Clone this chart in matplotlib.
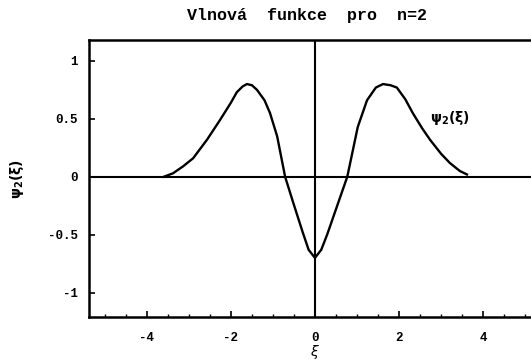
import numpy as np
from matplotlib import pyplot as plt
from matplotlib.ticker import MultipleLocator

# values
xi = [-3.6, -3.38, -3.14, -2.9, -2.57, -2.26, -2.0, -1.86, -1.72, -1.62, -1.5,
      -1.38, -1.2, -1.07, -0.9, -0.71, -0.52, -0.29, -0.15, 0.0, 0.15, 0.29,
      0.52, 0.77, 1.02, 1.24, 1.45, 1.62, 1.8, 1.95, 2.15, 2.33, 2.55, 2.74,
      3.0, 3.21, 3.45, 3.62]
psi = [0.0, 0.03, 0.09, 0.16, 0.32, 0.49, 0.64, 0.73, 0.78, 0.80, 0.79,
       0.75, 0.66, 0.55, 0.35, 0.0, -0.22, -0.48, -0.63, -0.70, -0.63, -0.50,
       -0.26, 0.0, 0.43, 0.66, 0.77, 0.80, 0.79, 0.77, 0.67, 0.55, 0.42, 0.32,
       0.20, 0.12, 0.05, 0.02]

xticks = [-4, -2, 0, 2, 4]
yticks = [-1, -0.5, 0, 0.5, 1]
ytick_labels = ["-1", "-0.5", "0", "0.5", "1"]

mono = "Liberation Mono"

fig = plt.figure(figsize=(5.31, 3.6), dpi=100)
ax = fig.add_axes([0.1676, 0.1194, 0.851, 0.7694])

ax.plot(xi, psi, color="black", linewidth=1.7)
ax.axhline(0, color="black", linewidth=1.5)
ax.axvline(0, color="black", linewidth=1.5)

ax.set_xlim(-5.38, 5.38)
ax.set_ylim(-1.21, 1.18)

ax.set_xticks(xticks)
ax.set_xticklabels([str(t) for t in xticks])
ax.set_yticks(yticks)
ax.set_yticklabels(ytick_labels)
ax.xaxis.set_minor_locator(MultipleLocator(0.5))
ax.tick_params(axis="x", which="major", pad=11)
ax.tick_params(axis="y", which="major", pad=8)
ax.tick_params(axis="both", which="major", direction="in", length=4, width=1.2,
               labelsize=9)
ax.tick_params(axis="both", which="minor", direction="in", length=2, width=1)
for lab in ax.get_xticklabels() + ax.get_yticklabels():
    lab.set_fontfamily(mono)
    lab.set_fontweight("bold")

for s in ax.spines.values():
    s.set_linewidth(1.8)

ax.text(2.73, 0.47, r"$\mathbf{\psi_2(\xi)}$", fontsize=10)

fig.text(0.578, 0.958, "Vlnová  funkce  pro  n=2", fontsize=12,
         fontfamily=mono, fontweight="bold", ha="center", va="center")
ax.set_xlabel(r"$\xi$", fontsize=10)
ax.xaxis.set_label_coords(0.5, -0.094)
ax.set_ylabel(r"$\mathbf{\psi_2(\xi)}$", fontsize=10)
ax.yaxis.set_label_coords(-0.14, 0.5)

fig.savefig("out.png", dpi=100)
